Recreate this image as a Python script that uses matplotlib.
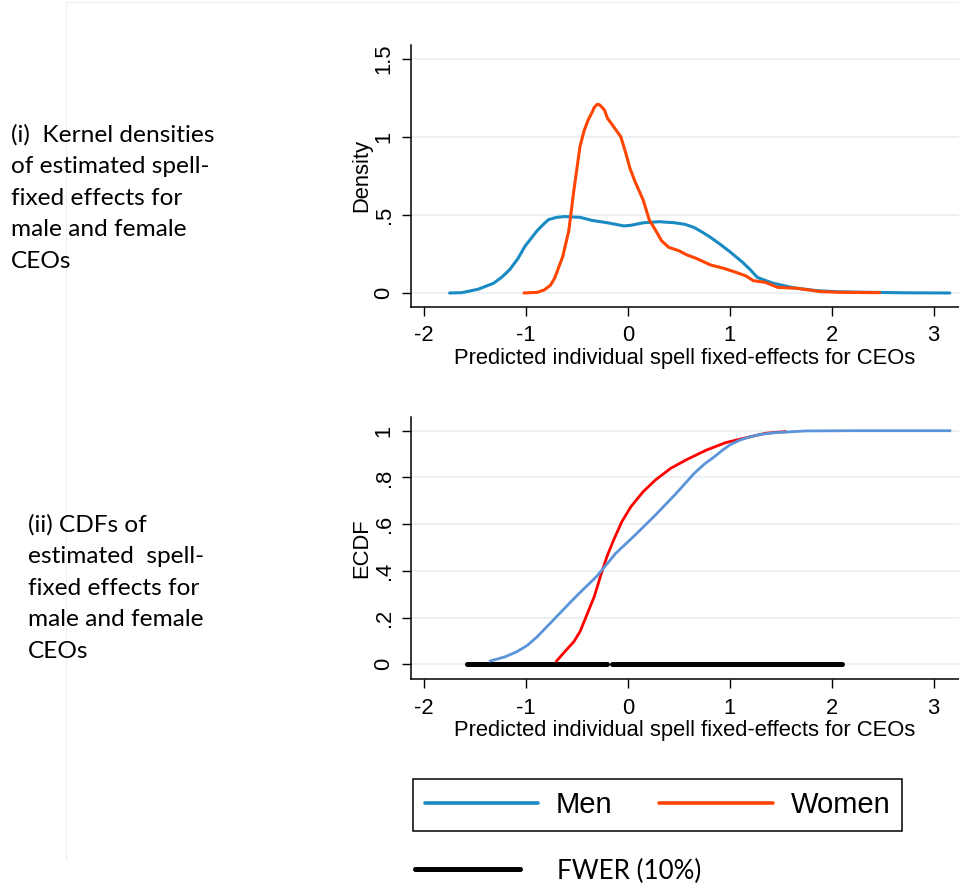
import matplotlib
matplotlib.use("Agg")
import matplotlib.pyplot as plt
from matplotlib.lines import Line2D

# kernel densities
men_kx = [-1.75, -1.63, -1.47, -1.32, -1.24, -1.16, -1.08, -1.01, -0.95, -0.89, -0.83,
          -0.78, -0.70, -0.62, -0.47, -0.35, -0.20, -0.04, 0.03, 0.15, 0.31, 0.46, 0.56,
          0.65, 0.73, 0.81, 0.90, 1.00, 1.12, 1.20, 1.27, 1.35, 1.43, 1.62, 1.85, 2.05,
          2.40, 2.74, 3.16]
men_ky = [0.0, 0.002, 0.024, 0.062, 0.10, 0.15, 0.22, 0.30, 0.35, 0.40, 0.44,
          0.47, 0.485, 0.49, 0.485, 0.465, 0.45, 0.43, 0.434, 0.45, 0.457, 0.45, 0.44,
          0.42, 0.39, 0.357, 0.315, 0.265, 0.20, 0.15, 0.10, 0.08, 0.062, 0.034, 0.015,
          0.008, 0.004, 0.001, 0.0]
women_kx = [-1.02, -0.89, -0.82, -0.76, -0.72, -0.64, -0.58, -0.53, -0.47, -0.43, -0.39,
            -0.35, -0.33, -0.30, -0.28, -0.26, -0.23, -0.20, -0.14, -0.07, -0.02, 0.02,
            0.07, 0.15, 0.21, 0.27, 0.33, 0.40, 0.50, 0.58, 0.67, 0.81, 0.94, 1.04, 1.16,
            1.23, 1.35, 1.47, 1.66, 1.89, 2.09, 2.47]
women_ky = [0.0, 0.004, 0.02, 0.05, 0.094, 0.233, 0.40, 0.66, 0.94, 1.04, 1.11,
            1.16, 1.19, 1.21, 1.207, 1.195, 1.173, 1.12, 1.066, 1.002, 0.895, 0.80,
            0.714, 0.596, 0.468, 0.404, 0.335, 0.293, 0.271, 0.244, 0.222, 0.18, 0.158,
            0.137, 0.109, 0.079, 0.068, 0.036, 0.030, 0.009, 0.004, 0.002]

# empirical cdfs
men_cx = [-1.35, -1.20, -1.09, -0.99, -0.89, -0.70, -0.51, -0.31, -0.20, -0.12, 0.07,
          0.27, 0.46, 0.65, 0.75, 0.85, 0.93, 1.00, 1.10, 1.20, 1.30, 1.43, 1.74, 2.20, 3.16]
men_cy = [0.014, 0.033, 0.054, 0.08, 0.118, 0.204, 0.29, 0.375, 0.432, 0.475, 0.553,
          0.639, 0.725, 0.817, 0.857, 0.889, 0.917, 0.939, 0.960, 0.974, 0.984, 0.991,
          0.999, 1.0, 1.0]
women_cx = [-0.70, -0.62, -0.53, -0.47, -0.41, -0.33, -0.26, -0.20, -0.14, -0.06, 0.03,
            0.15, 0.27, 0.42, 0.58, 0.77, 0.96, 1.16, 1.35, 1.54]
women_cy = [0.014, 0.054, 0.097, 0.14, 0.204, 0.29, 0.39, 0.468, 0.532, 0.61, 0.675,
            0.739, 0.789, 0.839, 0.877, 0.917, 0.949, 0.97, 0.989, 0.996]

# FWER (10%) rejection regions
fwer_segments = [(-1.58, -0.205), (-0.16, 2.10)]

xticks = [-2, -1, 0, 1, 2, 3]
dens_ticks = [0, 0.5, 1, 1.5]
dens_labels = ["0", ".5", "1", "1.5"]
cdf_ticks = [0, 0.2, 0.4, 0.6, 0.8, 1]
cdf_labels = ["0", ".2", ".4", ".6", ".8", "1"]

ARIAL = "Liberation Sans"
SIDE = "Lato"
FS = 15.8
GRID = "#eaf1f3"

plt.rcParams["font.family"] = ARIAL


def style_axes(ax, yticks, ylabels, ylabel):
    ax.spines["top"].set_visible(False)
    ax.spines["right"].set_visible(False)
    ax.spines["left"].set_linewidth(1.1)
    ax.spines["bottom"].set_linewidth(1.1)
    ax.set_xticks(xticks)
    ax.set_xticklabels([str(t) for t in xticks], fontsize=FS)
    ax.set_yticks(yticks)
    ax.set_yticklabels(ylabels, fontsize=FS, rotation=90, va="center")
    ax.tick_params(length=6.5, width=1.0, pad=5)
    ax.tick_params(axis="x", pad=7)
    for y in yticks:
        ax.axhline(y, color=GRID, lw=1.3, zorder=0)
    ax.set_xlabel("Predicted individual spell fixed-effects for CEOs", fontsize=FS, labelpad=1)
    ax.set_ylabel(ylabel, fontsize=FS, labelpad=1)


fig = plt.figure(figsize=(9.59, 8.83), dpi=100)

# faint frame line of the original page
fig.add_artist(Line2D([66 / 959, 66 / 959], [1 - 2 / 883, 1 - 860 / 883], color="#eeeeee", lw=0.8))
fig.add_artist(Line2D([66 / 959, 1.0], [1 - 2 / 883, 1 - 2 / 883], color="#eeeeee", lw=0.8))

ax1 = fig.add_axes([410.5 / 959, 1 - 306.7 / 883, 1 - 410.5 / 959, (306.7 - 45) / 883])
men_line, = ax1.plot(men_kx, men_ky, color="#1a8ac2", lw=2.2, solid_capstyle="round")
women_line, = ax1.plot(women_kx, women_ky, color="#ff4500", lw=2.2, solid_capstyle="round")
ax1.set_xlim(-2.134, 3.25)
ax1.set_ylim(-0.088, 1.59)
style_axes(ax1, dens_ticks, dens_labels, "Density")

ax2 = fig.add_axes([410.5 / 959, 1 - 679 / 883, 1 - 410.5 / 959, (679 - 416.7) / 883])
for a, b in fwer_segments:
    fwer_line, = ax2.plot([a, b], [0, 0], color="black", lw=3.6, solid_capstyle="round", zorder=2)
ax2.plot(women_cx, women_cy, color="#ff0000", lw=2.0, zorder=3)
ax2.plot(men_cx, men_cy, color="#5b94d8", lw=2.0, zorder=3)
ax2.set_xlim(-2.134, 3.25)
ax2.set_ylim(-0.063, 1.06)
style_axes(ax2, cdf_ticks, cdf_labels, "ECDF")

# side captions
fig.text(11 / 959, 1 - 124 / 883,
         "(i)  Kernel densities\nof estimated spell-\nfixed effects for\nmale and female\nCEOs",
         family=SIDE, fontsize=17.6, va="top", ha="left", linespacing=1.62)
fig.text(27.7 / 959, 1 - 514 / 883,
         "(ii) CDFs of\nestimated  spell-\nfixed effects for\nmale and female\nCEOs",
         family=SIDE, fontsize=17.6, va="top", ha="left", linespacing=1.62)

leg = fig.legend([men_line, women_line], ["Men", "Women"], loc="center",
                 bbox_to_anchor=(657.5 / 959, 1 - 805 / 883), ncol=2, fontsize=21,
                 frameon=True, fancybox=False, edgecolor="black", framealpha=1,
                 handlelength=3.9, handletextpad=0.6, columnspacing=1.6, borderpad=0.4)
leg.get_frame().set_linewidth(1.1)
for h in leg.legend_handles:
    h.set_linewidth(2.6)

leg2 = fig.legend([fwer_line], ["FWER (10%)"], loc="center left",
                  bbox_to_anchor=(415 / 959, 1 - 871 / 883), frameon=False,
                  prop={"family": SIDE, "size": 18.7}, handlelength=4.04, handletextpad=1.42,
                  borderpad=0, borderaxespad=0)
leg2.legend_handles[0].set_linewidth(3.6)

fig.savefig("out.png", dpi=100)
